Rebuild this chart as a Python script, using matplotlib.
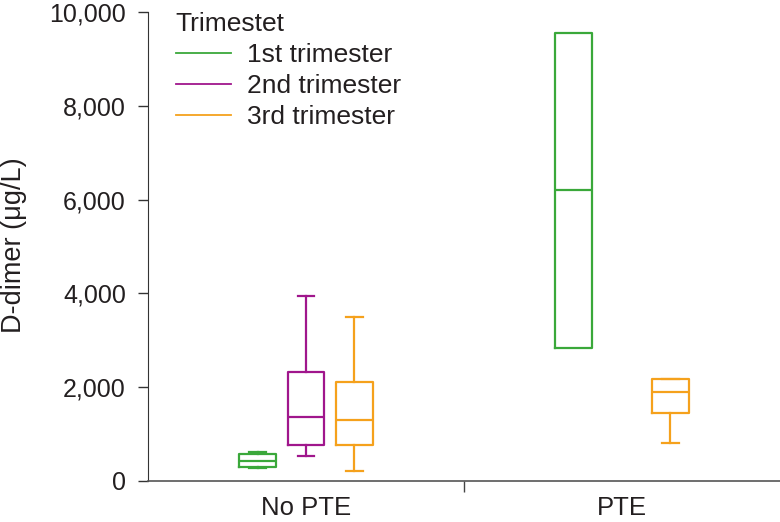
import matplotlib
matplotlib.use("Agg")
import matplotlib.pyplot as plt
from matplotlib.lines import Line2D
from matplotlib.transforms import blended_transform_factory

plt.rcParams['font.family'] = ['Liberation Sans', 'DejaVu Sans']

groups = ["No PTE", "PTE"]
trimesters = ["1st trimester", "2nd trimester", "3rd trimester"]
colors = ["#3aa83a", "#a0168c", "#f5a11c"]

# stats: whislo, q1, med, q3, whishi
no_pte_1st = [270, 300, 430, 580, 620]
no_pte_2nd = [540, 770, 1370, 2320, 3940]
no_pte_3rd = [210, 770, 1300, 2110, 3500]
pte_1st = [2840, 2840, 6210, 9560, 9560]
pte_3rd = [800, 1460, 1900, 2170, 2170]

boxes = [(0, 0, no_pte_1st), (0, 1, no_pte_2nd), (0, 2, no_pte_3rd),
         (1, 0, pte_1st), (1, 2, pte_3rd)]

TXT = '#231f20'

fig = plt.figure(figsize=(7.8, 5.22), dpi=100)
ax = fig.add_axes([148/780, 1-481/522, 632/780, 469/522])

offset = 0.153
width = 0.117
for g, t, s in boxes:
    st = dict(whislo=s[0], q1=s[1], med=s[2], q3=s[3], whishi=s[4], fliers=[])
    c = colors[t]
    ax.bxp([st], positions=[g + (t - 1) * offset], widths=width,
           showfliers=False, manage_ticks=False,
           boxprops=dict(color=c, linewidth=1.6),
           medianprops=dict(color=c, linewidth=1.6),
           whiskerprops=dict(color=c, linewidth=1.6),
           capprops=dict(color=c, linewidth=1.6),
           capwidths=width * 0.45 if s[0] != s[1] else 0)

ax.set_xlim(-0.5, 1.5)
ax.set_ylim(0, 10000)
ax.set_yticks([0, 2000, 4000, 6000, 8000, 10000])
ax.set_yticklabels(["0", "2,000", "4,000", "6,000", "8,000", "10,000"],
                   fontsize=18, color=TXT)
ax.set_xticks([0.5])
ax.set_xticklabels([""])
ax.tick_params(axis='x', length=8, width=1, color='#444444')
ax.tick_params(axis='y', length=7, width=1, color='#333333', pad=9)
tr = blended_transform_factory(ax.transData, ax.transAxes)
for i, g in enumerate(groups):
    ax.text(i, -0.073, g, ha='center', va='baseline', fontsize=18.5,
            transform=tr, color=TXT)
fig.text(14/780, 1-245/522, "D-dimer (\u03bcg/L)", rotation=90, ha='center',
         va='center', fontsize=19.5, color=TXT)
for sp in ['top', 'right']:
    ax.spines[sp].set_visible(False)
ax.spines['left'].set_color('#333333')
ax.spines['bottom'].set_color('#555555')
ax.spines['bottom'].set_linewidth(1.2)

handles = [Line2D([0], [0], color=c, linewidth=1.3) for c in colors]
leg = ax.legend(handles, trimesters, title="Trimestet", frameon=False,
                loc='upper left', bbox_to_anchor=(0.044, 1.0), fontsize=19,
                title_fontsize=19, handlelength=2.08, handletextpad=0.6,
                labelspacing=0.27, borderaxespad=0, borderpad=0)
leg._legend_box.align = "left"
leg.get_title().set_color(TXT)
for t in leg.get_texts():
    t.set_color(TXT)

fig.savefig("out.png", dpi=100)
